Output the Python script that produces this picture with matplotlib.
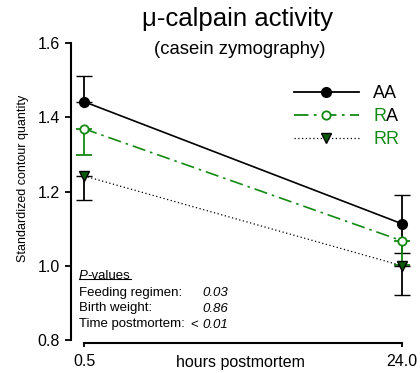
import numpy as np
import matplotlib
matplotlib.use("Agg")
import matplotlib.pyplot as plt
from matplotlib.lines import Line2D

plt.rcParams['font.family'] = ['Liberation Sans', 'DejaVu Sans']

# hours postmortem and group means with one-sided error bars
hours = [0.5, 24.0]
aa_mean = [1.442, 1.113]
aa_err_lo = [0.0, 0.078]
aa_err_hi = [0.068, 0.078]
ra_mean = [1.369, 1.067]
ra_err_lo = [0.070, 0.065]
ra_err_hi = [0.0, 0.0]
rr_mean = [1.242, 1.000]
rr_err_lo = [0.066, 0.078]
rr_err_hi = [0.0, 0.0]

groups = ['AA', 'RA', 'RR']
pv_names = ['Feeding regimen:', 'Birth weight:', 'Time postmortem:']
pv_values = ['0.03', '0.86', '0.01']
pv_prefix = ['', '', '< ']

green = '#138a13'

fig = plt.figure(figsize=(4.2, 3.73), dpi=100)
ax = fig.add_axes([71 / 420, 33 / 373, 339 / 420, 297 / 373])

ax.errorbar(hours, aa_mean, yerr=[aa_err_lo, aa_err_hi], color='black', lw=1.2,
            marker='o', ms=7, mfc='black', mec='black', capsize=6, elinewidth=1.3,
            zorder=3)
ax.errorbar(hours, ra_mean, yerr=[ra_err_lo, ra_err_hi], color=green, lw=1.2,
            ls=(0, (8, 3, 1.5, 3)), marker='o', ms=6, mfc='white', mec=green,
            mew=1.3, capsize=6, elinewidth=1.3, zorder=4)
ax.errorbar(hours, rr_mean, yerr=[rr_err_lo, rr_err_hi], color='black', lw=0.9,
            ls=(0, (1, 2)), marker='v', ms=7, mfc='#0a5a0a', mec='black',
            capsize=6, elinewidth=1.3, ecolor='black', zorder=5)

ax.set_xlim(-0.461, 24.59)
ax.set_ylim(0.8, 1.6)
ax.set_xticks(hours)
ax.set_xticklabels(['0.5', '24.0'])
ax.set_yticks([0.8, 1.0, 1.2, 1.4, 1.6])
ax.set_yticklabels(['0.8', '1.0', '1.2', '1.4', '1.6'])
for s in ['top', 'right']:
    ax.spines[s].set_visible(False)
ax.spines['left'].set_bounds(0.8, 1.6)
ax.spines['bottom'].set_bounds(0.5, 24.0)
ax.spines['bottom'].set_position(('outward', 2))
for s in ['left', 'bottom']:
    ax.spines[s].set_linewidth(1.5)
ax.tick_params(axis='both', width=1.3, length=4, labelsize=11.5, pad=4)
ax.tick_params(axis='x', length=3, pad=5)

ax.set_ylabel('Standardized contour quantity', fontsize=9)
ax.yaxis.set_label_coords(-0.124, 0.545)
fig.text(240 / 420, 1 - 366.5 / 373, 'hours postmortem', fontsize=11.5,
         ha='center', va='baseline')

fig.text(238 / 420, 1 - 19 / 373, '\u03bc-calpain activity', fontsize=18.5,
         ha='center', va='center')
fig.text(240 / 420, 1 - 50 / 373, '(casein zymography)', fontsize=13.3,
         ha='center', va='center')

# legend with two-colour genotype labels
handles = [
    Line2D([], [], color='black', lw=1.3, marker='o', ms=7, mfc='black'),
    Line2D([], [], color=green, lw=1.3, ls=(0, (8, 3, 1.5, 3)), marker='o',
           ms=6, mfc='white', mec=green, mew=1.3),
    Line2D([], [], color='black', lw=0.9, ls=(0, (1, 2)), marker='v', ms=7,
           mfc='#0a5a0a', mec='black'),
]
leg = ax.legend(handles, ['AA', 'R', 'RR'], loc='upper right',
                bbox_to_anchor=(1.0, 0.895), frameon=False, fontsize=13,
                handlelength=3.6, handletextpad=0.8, labelspacing=0.33,
                borderaxespad=0.2)
texts = leg.get_texts()
texts[1].set_color(green)
texts[2].set_color(green)
ax.annotate('A', xy=(1, 0), xycoords=texts[1], va='bottom', ha='left',
            fontsize=13, color='black')

# P-value table in the lower left corner
fs = 9.5
x0 = (79 - 71) / 339
rows_y = [1 - (293 - 43) / 297, 1 - (308.5 - 43) / 297, 1 - (324.5 - 43) / 297]
head_y = 1 - (276 - 43) / 297
ph = ax.text(x0, head_y, 'P', style='italic', fontsize=fs, va='center',
             transform=ax.transAxes)
pv = ax.annotate('-values', xy=(1, 0), xycoords=ph, va='bottom', ha='left',
                 fontsize=fs)
vx = (202 - 71) / 339
for name, val, pre, yy in zip(pv_names, pv_values, pv_prefix, rows_y):
    ax.text(x0, yy, name, fontsize=fs, va='center', transform=ax.transAxes)
    ax.text(vx, yy, val, fontsize=fs, style='italic', va='center',
            transform=ax.transAxes)
    if pre:
        ax.text(vx, yy, pre, fontsize=fs, va='center', ha='right',
                transform=ax.transAxes)

# underline the heading
fig.canvas.draw()
inv = ax.transAxes.inverted()
b1 = ph.get_window_extent()
b2 = pv.get_window_extent()
(ux0, uy), (ux1, _) = inv.transform([(b1.x0, b1.y0 + 3), (b2.x1, b2.y0)])
ax.plot([ux0, ux1], [uy, uy], color='black', lw=0.8, transform=ax.transAxes,
        clip_on=False)

fig.savefig('out.png', dpi=100)
